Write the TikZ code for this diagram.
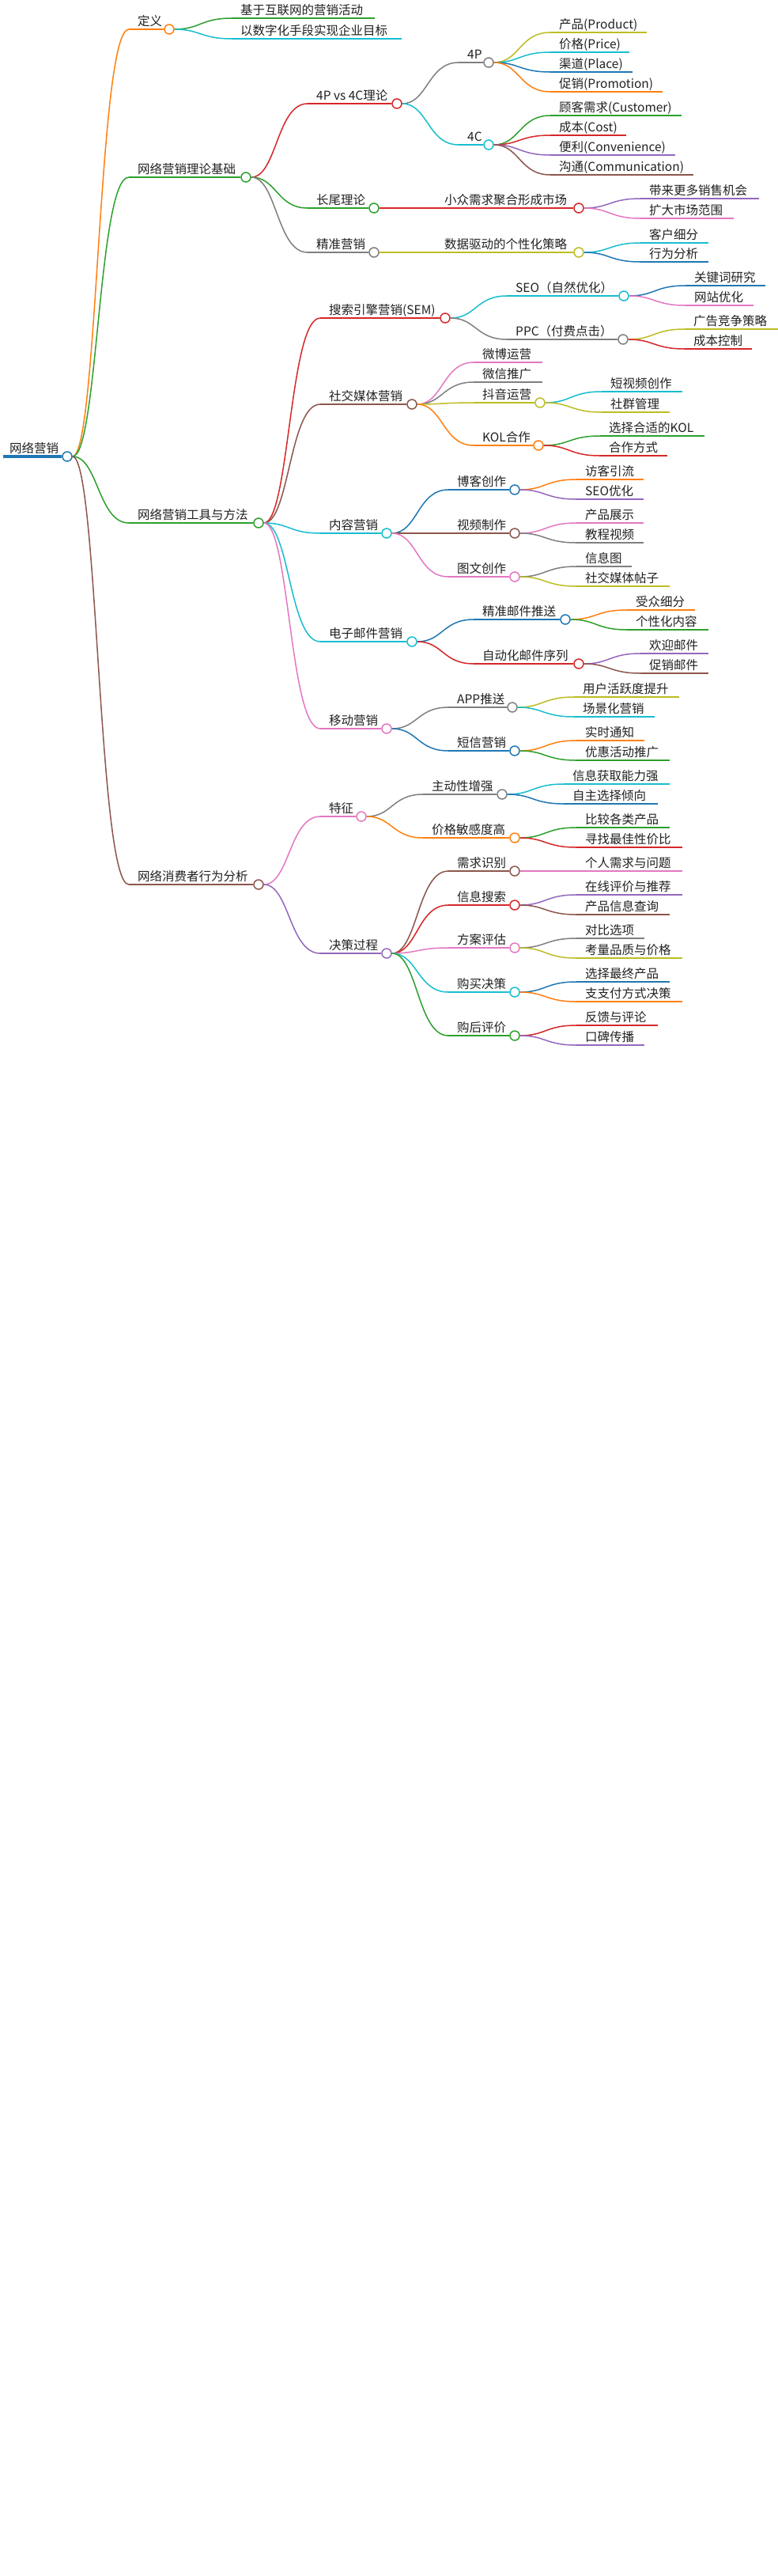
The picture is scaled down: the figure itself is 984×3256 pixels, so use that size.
\documentclass[tikz,border=0pt]{standalone}
\usepackage{fontspec}
\setmainfont{Noto Sans CJK SC}
\usetikzlibrary{calc}
\pgfdeclarelayer{bg}
\pgfsetlayers{bg,main}
\definecolor{cBlue}{HTML}{1F77B4}
\definecolor{cOrange}{HTML}{FF7F0E}
\definecolor{cGreen}{HTML}{2CA02C}
\definecolor{cRed}{HTML}{D62728}
\definecolor{cPurple}{HTML}{9467BD}
\definecolor{cBrown}{HTML}{8C564B}
\definecolor{cPink}{HTML}{E377C2}
\definecolor{cGray}{HTML}{7F7F7F}
\definecolor{cOlive}{HTML}{BCBD22}
\definecolor{cCyan}{HTML}{17BECF}
% #1 parent, #2 name, #3 start x, #4 end x, #5 y, #6 colour, #7 text
\newcommand\mmbranch[7]{%
  \coordinate (#2-s) at (#3,#5);
  \node[dot,draw=#6] (#2) at (#4,#5) {};
  \node[lbl] (#2-t) at (#3+11,#5-5) {#7};
  \begin{pgfonlayer}{bg}
    \draw[link,#6] (#1) .. controls ($(#1)+(39,0)$) and ($(#2-s)+(-39,0)$) .. (#2-s);
    \draw[uline,#6] (#2-s) -- (#2);
  \end{pgfonlayer}}
\newcommand\mmleaf[7]{%
  \coordinate (#2-s) at (#3,#5);
  \coordinate (#2-e) at (#4,#5);
  \node[lbl] (#2-t) at (#3+11,#5-5) {#7};
  \begin{pgfonlayer}{bg}
    \draw[link,#6] (#1) .. controls ($(#1)+(39,0)$) and ($(#2-s)+(-39,0)$) .. (#2-s);
    \draw[uline,#6] (#2-s) -- (#2-e);
  \end{pgfonlayer}}
\begin{document}
\begin{tikzpicture}[x=1pt,y=-1pt,
  link/.style={line width=1.5pt},
  uline/.style={line width=2pt},
  lbl/.style={anchor=base west,inner sep=0pt,font=\fontsize{15.5}{18}\selectfont,text=black!87},
  dot/.style={circle,minimum size=12pt,inner sep=0pt,fill=white,line width=1.5pt}]
\useasboundingbox (0,0) rectangle (984,3256);
\begin{pgfonlayer}{bg}
\fill[white] (0,0) rectangle (984,3256);
\end{pgfonlayer}
% root
\coordinate (root-s) at (4,577);
\node[dot,draw=cBlue] (root) at (85,577) {};
\node[lbl] (root-t) at (12,572) {网络营销};
\begin{pgfonlayer}{bg}
\draw[cBlue,line width=4pt] (root-s) -- (root);
\end{pgfonlayer}
% definition
\mmbranch{root}{def}{163}{214}{37}{cOrange}{定义}
\mmleaf{def}{def1}{293}{474}{23}{cGreen}{基于互联网的营销活动}
\mmleaf{def}{def2}{293}{508}{49}{cCyan}{以数字化手段实现企业目标}
% theory
\mmbranch{root}{th}{163}{311}{224}{cGreen}{网络营销理论基础}
\mmbranch{th}{pc}{389}{502}{131}{cRed}{4P vs 4C理论}
\mmbranch{pc}{fp}{580}{618}{79}{cGray}{4P}
\mmleaf{fp}{fp1}{696}{818}{41}{cOlive}{产品(Product)}
\mmleaf{fp}{fp2}{696}{796}{66}{cCyan}{价格(Price)}
\mmleaf{fp}{fp3}{696}{800}{91}{cBlue}{渠道(Place)}
\mmleaf{fp}{fp4}{696}{838}{116}{cOrange}{促销(Promotion)}
\mmbranch{pc}{fc}{580}{618}{183}{cCyan}{4C}
\mmleaf{fc}{fc1}{696}{862}{146}{cGreen}{顾客需求(Customer)}
\mmleaf{fc}{fc2}{696}{792}{171}{cRed}{成本(Cost)}
\mmleaf{fc}{fc3}{696}{854}{196}{cPurple}{便利(Convenience)}
\mmleaf{fc}{fc4}{696}{877}{221}{cBrown}{沟通(Communication)}
\mmbranch{th}{lt}{389}{473}{263}{cGreen}{长尾理论}
\mmbranch{lt}{lta}{551}{732}{263}{cRed}{小众需求聚合形成市场}
\mmleaf{lta}{lta1}{810}{960}{251}{cPurple}{带来更多销售机会}
\mmleaf{lta}{lta2}{810}{928}{276}{cPink}{扩大市场范围}
\mmbranch{th}{pm}{389}{473}{319}{cGray}{精准营销}
\mmbranch{pm}{pma}{551}{732}{319}{cOlive}{数据驱动的个性化策略}
\mmleaf{pma}{pma1}{810}{896}{307}{cCyan}{客户细分}
\mmleaf{pma}{pma2}{810}{896}{331}{cBlue}{行为分析}
% tools
\mmbranch{root}{tl}{163}{327}{661}{cGreen}{网络营销工具与方法}
\mmbranch{tl}{sem}{405}{563}{402}{cRed}{搜索引擎营销(SEM)}
\mmbranch{sem}{seo}{641}{789}{374}{cCyan}{SEO（自然优化）}
\mmleaf{seo}{seo1}{867}{968}{361}{cBlue}{关键词研究}
\mmleaf{seo}{seo2}{867}{953}{386}{cPink}{网站优化}
\mmbranch{sem}{ppc}{641}{788}{429}{cGray}{PPC（付费点击）}
\mmleaf{ppc}{ppc1}{866}{984}{416}{cOlive}{广告竞争策略}
\mmleaf{ppc}{ppc2}{866}{951}{441}{cRed}{成本控制}
\mmbranch{tl}{sm}{405}{521}{511}{cBrown}{社交媒体营销}
\mmleaf{sm}{sm1}{599}{686}{458}{cPink}{微博运营}
\mmleaf{sm}{sm2}{599}{686}{483}{cGray}{微信推广}
\mmbranch{sm}{dy}{599}{683}{509}{cOlive}{抖音运营}
\mmleaf{dy}{dy1}{761}{863}{495}{cCyan}{短视频创作}
\mmleaf{dy}{dy2}{761}{847}{521}{cOlive}{社群管理}
\mmbranch{sm}{kol}{599}{681}{563}{cOrange}{KOL合作}
\mmleaf{kol}{kol1}{759}{891}{551}{cGreen}{选择合适的KOL}
\mmleaf{kol}{kol2}{759}{844}{576}{cRed}{合作方式}
\mmbranch{tl}{cm}{405}{489}{674}{cCyan}{内容营销}
\mmbranch{cm}{bk}{567}{651}{619}{cBlue}{博客创作}
\mmleaf{bk}{bk1}{729}{814}{606}{cOrange}{访客引流}
\mmleaf{bk}{bk2}{729}{814}{631}{cPurple}{SEO优化}
\mmbranch{cm}{vd}{567}{651}{674}{cBrown}{视频制作}
\mmleaf{vd}{vd1}{729}{814}{661}{cPink}{产品展示}
\mmleaf{vd}{vd2}{729}{814}{686}{cGray}{教程视频}
\mmbranch{cm}{tw}{567}{651}{729}{cPink}{图文创作}
\mmleaf{tw}{tw1}{729}{799}{716}{cGray}{信息图}
\mmleaf{tw}{tw2}{729}{847}{741}{cOlive}{社交媒体帖子}
\mmbranch{tl}{em}{405}{521}{811}{cCyan}{电子邮件营销}
\mmbranch{em}{ema}{599}{715}{783}{cBlue}{精准邮件推送}
\mmleaf{ema}{ema1}{793}{879}{771}{cOrange}{受众细分}
\mmleaf{ema}{ema2}{793}{896}{796}{cGreen}{个性化内容}
\mmbranch{em}{emb}{599}{732}{839}{cRed}{自动化邮件序列}
\mmleaf{emb}{emb1}{810}{896}{826}{cPurple}{欢迎邮件}
\mmleaf{emb}{emb2}{810}{896}{851}{cBrown}{促销邮件}
\mmbranch{tl}{mb}{405}{489}{921}{cPink}{移动营销}
\mmbranch{mb}{app}{567}{648}{894}{cGray}{APP推送}
\mmleaf{app}{app1}{726}{859}{881}{cOlive}{用户活跃度提升}
\mmleaf{app}{app2}{726}{828}{906}{cCyan}{场景化营销}
\mmbranch{mb}{sms}{567}{651}{949}{cBlue}{短信营销}
\mmleaf{sms}{sms1}{729}{815}{936}{cOrange}{实时通知}
\mmleaf{sms}{sms2}{729}{847}{961}{cGreen}{优惠活动推广}
% consumer behaviour
\mmbranch{root}{cs}{163}{327}{1118}{cBrown}{网络消费者行为分析}
\mmbranch{cs}{tz}{405}{457}{1032}{cPink}{特征}
\mmbranch{tz}{zd}{535}{635}{1004}{cGray}{主动性增强}
\mmleaf{zd}{zd1}{713}{847}{991}{cCyan}{信息获取能力强}
\mmleaf{zd}{zd2}{713}{832}{1016}{cBlue}{自主选择倾向}
\mmbranch{tz}{jg}{535}{651}{1059}{cOrange}{价格敏感度高}
\mmleaf{jg}{jg1}{729}{847}{1046}{cGreen}{比较各类产品}
\mmleaf{jg}{jg2}{729}{863}{1071}{cRed}{寻找最佳性价比}
\mmbranch{cs}{jc}{405}{489}{1205}{cPurple}{决策过程}
\mmbranch{jc}{xq}{567}{651}{1101}{cBrown}{需求识别}
\mmleaf{xq}{xq1}{729}{863}{1101}{cPink}{个人需求与问题}
\mmbranch{jc}{xx}{567}{651}{1144}{cRed}{信息搜索}
\mmleaf{xx}{xx1}{729}{863}{1131}{cPurple}{在线评价与推荐}
\mmleaf{xx}{xx2}{729}{847}{1156}{cBrown}{产品信息查询}
\mmbranch{jc}{fa}{567}{651}{1198}{cPink}{方案评估}
\mmleaf{fa}{fa1}{729}{815}{1186}{cGray}{对比选项}
\mmleaf{fa}{fa2}{729}{863}{1211}{cOlive}{考量品质与价格}
\mmbranch{jc}{gm}{567}{651}{1254}{cCyan}{购买决策}
\mmleaf{gm}{gm1}{729}{847}{1241}{cBlue}{选择最终产品}
\mmleaf{gm}{gm2}{729}{863}{1266}{cOrange}{支支付方式决策}
\mmbranch{jc}{gh}{567}{651}{1309}{cGreen}{购后评价}
\mmleaf{gh}{gh1}{729}{832}{1296}{cRed}{反馈与评论}
\mmleaf{gh}{gh2}{729}{815}{1321}{cPurple}{口碑传播}
\end{tikzpicture}
\end{document}
